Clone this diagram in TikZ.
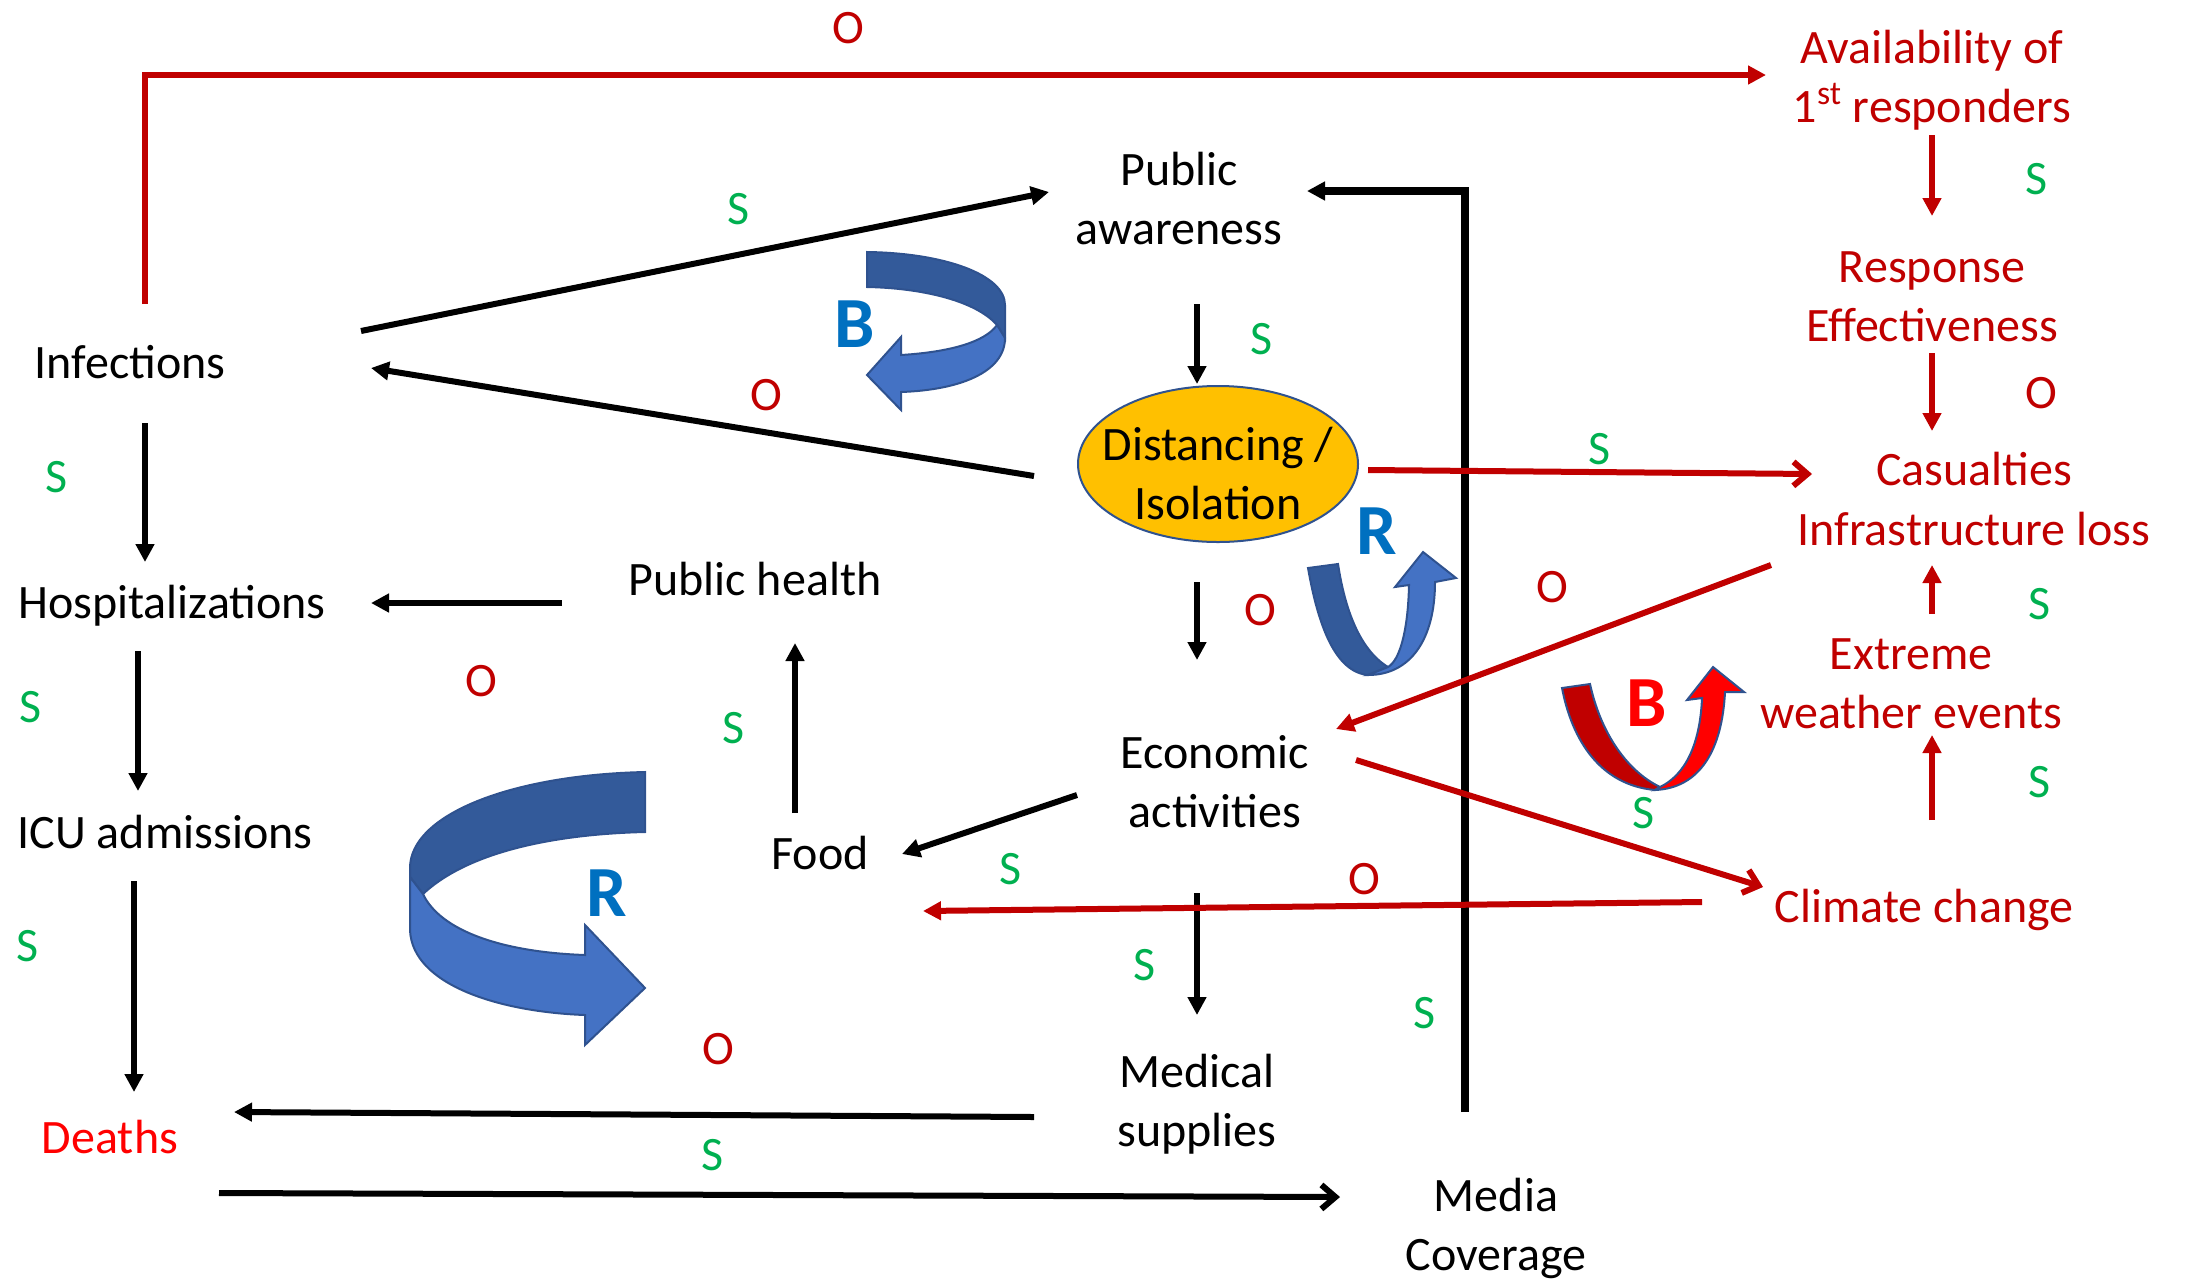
\documentclass[tikz,border=0pt]{standalone}
\usepackage{fontspec}
\setmainfont{Carlito}
\usetikzlibrary{arrows.meta,shapes.geometric}
\definecolor{darkred}{HTML}{C00000}
\definecolor{brightred}{HTML}{FF0000}
\definecolor{sgreen}{HTML}{00B050}
\definecolor{ltrblue}{HTML}{0070C0}
\definecolor{looplight}{HTML}{4472C4}
\definecolor{loopdark}{HTML}{335A9A}
\definecolor{loopline}{HTML}{2F528F}
\definecolor{ellfill}{HTML}{FFC000}
\tikzset{
  txt/.style={font=\fontsize{24}{29.5}\selectfont,align=center,inner sep=0pt},
  redtxt/.style={txt,text=darkred},
  sgn/.style={txt,text=sgreen},
  ogn/.style={txt,text=darkred},
  blk/.style={line width=3pt,-{Triangle[length=9pt,width=9pt]}},
  redln/.style={blk,darkred},
  barb/.style={-{Straight Barb[length=7pt,width=12pt]}},
  loopltr/.style={font=\fontsize{36}{36}\bfseries\selectfont,inner sep=0pt},
  loopshape/.style={draw=loopline,line width=1pt},
}
\begin{document}
\begin{tikzpicture}[x=0.5pt,y=-0.5pt]
\useasboundingbox (0,0) rectangle (2187,1280);
% variables
\node[txt,anchor=base](inf)at(130,378){Infections};
\node[txt,anchor=base](hosp)at(172,618){Hospitalizations};
\node[txt,anchor=base](icu)at(165,848){ICU admissions};
\node[txt,anchor=base,text=brightred](deaths)at(110,1153){Deaths};
\node[txt,anchor=base](pubh)at(755,595){Public health};
\node[txt,anchor=base](food)at(820,869){Food};
\node[txt](aware)at(1179,199){Public\\awareness};
\node[ellipse,draw=loopline,line width=1pt,fill=ellfill,minimum width=140pt,minimum height=78pt,inner sep=0pt](dist)at(1218,464){};
\node[txt](distlbl)at(1218,474){Distancing /\\Isolation};
\node[txt](econ)at(1215,782){Economic\\activities};
\node[txt](med)at(1197,1104){Medical\\supplies};
\node[txt](media)at(1496,1228){Media\\Coverage};
\node[redtxt](avail)at(1932,80){Availability of\\1\textsuperscript{st} responders};
\node[redtxt](resp)at(1932,297){Response\\Effectiveness};
\node[redtxt](cas)at(1974,499){Casualties\\Infrastructure loss};
\node[redtxt](extr)at(1911,684){Extreme\\weather events};
\node[redtxt,anchor=base](clim)at(1924,922){Climate change};
% black links
\draw[blk]([shift={(15,45)}]inf.base)--([shift={(-27,-56)}]hosp.base);
\draw[blk]([shift={(-34,33)}]hosp.base)--([shift={(-27,-57)}]icu.base);
\draw[blk]([shift={(-31,33)}]icu.base)--([shift={(24,-61)}]deaths.base);
\draw[blk]([shift={(231,-47)}]inf.base)--([shift={(-130,-7)}]aware.center);
\draw[blk]([shift={(-184,12)}]dist.center)--([shift={(241,-10)}]inf.base);
\draw[blk]([shift={(18,105)}]aware.center)--([shift={(-21,-80)}]dist.center);
\draw[blk]([shift={(-21,118)}]dist.center)--([shift={(-18,-122)}]econ.center);
\draw[blk]([shift={(-138,13)}]econ.center)--([shift={(82,-15)}]food.base);
\draw[blk]([shift={(-25,-56)}]food.base)--([shift={(40,48)}]pubh.base);
\draw[blk]([shift={(-193,8)}]pubh.base)--([shift={(199,-15)}]hosp.base);
\draw[blk]([shift={(-18,111)}]econ.center)--([shift={(0,-89)}]med.center);
\draw[blk]([shift={(-163,13)}]med.center)--([shift={(124,-41)}]deaths.base);
\draw[blk,barb]([shift={(109,40)}]deaths.base)--([shift={(-156,-31)}]media.center);
\draw[blk,line width=3.6pt]([shift={(-31,-116)}]media.center)|-([shift={(128,-8)}]aware.center);
% red links
\draw[redln]([shift={(15,-74)}]inf.base)|-([shift={(-166,-5)}]avail.center);
\draw[redln]([shift={(0,55)}]avail.center)--([shift={(0,-81)}]resp.center);
\draw[redln]([shift={(0,56)}]resp.center)--([shift={(-42,-68)}]cas.center);
\draw[redln]([shift={(21,-70)}]extr.center)--([shift={(-42,66)}]cas.center);
\draw[redln]([shift={(8,-102)}]clim.base)--([shift={(21,51)}]extr.center);
\draw[redln,barb]([shift={(150,6)}]dist.center)--([shift={(-162,-25)}]cas.center);
\draw[redln]([shift={(-203,66)}]cas.center)--([shift={(121,-53)}]econ.center);
\draw[redln,barb]([shift={(141,-22)}]econ.center)--([shift={(-161,-35)}]clim.base);
\draw[redln]([shift={(-222,-20)}]clim.base)--([shift={(103,42)}]food.base);
% link signs
\node[ogn](o1)at(848,28){O};
\node[sgn](s1)at(739,209){S};
\node[ogn](o2)at(766,395){O};
\node[sgn](s2)at(1262,339){S};
\node[sgn](s3)at(1600,449){S};
\node[ogn](o3)at(1260,610){O};
\node[ogn](o4)at(1552,587){O};
\node[sgn](s4)at(2036,179){S};
\node[ogn](o5)at(2041,393){O};
\node[sgn](s5)at(2039,604){S};
\node[sgn](s6)at(2039,782){S};
\node[sgn](s7)at(1644,813){S};
\node[ogn](o6)at(1364,879){O};
\node[sgn](s8)at(1011,869){S};
\node[sgn](s9)at(734,728){S};
\node[ogn](o7)at(481,681){O};
\node[sgn](s10)at(1145,965){S};
\node[ogn](o8)at(718,1049){O};
\node[sgn](s11)at(713,1155){S};
\node[sgn](s12)at(57,477){S};
\node[sgn](s13)at(31,707){S};
\node[sgn](s14)at(28,946){S};
\node[sgn](s15)at(1425,1013){S};
% loops
\filldraw[loopshape,fill=loopdark](867,252).. controls (945,253) and (1005,275) ..(1005,305)--(1005,338)--(997,325).. controls (975,300) and (920,288) ..(867,287)--cycle;
\filldraw[loopshape,fill=looplight](997,325)--(1005,338).. controls (1005,372) and (960,390) ..(901,392)--(901,410)--(867,375)--(901,337)--(901,355).. controls (950,352) and (985,342) ..(997,325)--cycle;
\node[loopltr,text=ltrblue](bl1)at(855,324){B};
\filldraw[loopshape,fill=loopdark](645,772).. controls (510,775) and (410,815) ..(410,868)--(410,877)--(423,894).. controls (470,850) and (560,834) ..(645,832)--cycle;
\filldraw[loopshape,fill=looplight](410,877)--(410,930).. controls (412,985) and (500,1012) ..(585,1015)--(585,1045)--(645,988)--(585,925)--(585,955).. controls (500,952) and (440,930) ..(423,894)--cycle;
\node[loopltr,text=ltrblue](rl1)at(607,893){R};
\filldraw[loopshape,fill=loopdark](1308,568).. controls (1318,625) and (1335,672) ..(1368,675)--(1388,667).. controls (1360,650) and (1345,610) ..(1338,564)--cycle;
\filldraw[loopshape,fill=looplight](1368,675).. controls (1410,675) and (1435,640) ..(1435,582)--(1456,578)--(1423,552)--(1395,587)--(1409,585).. controls (1408,630) and (1400,660) ..(1388,667)--cycle;
\node[loopltr,text=ltrblue](rl2)at(1377,531){R};
\filldraw[loopshape,fill=darkred](1562,688).. controls (1572,740) and (1600,785) ..(1655,790)--(1660,787).. controls (1625,770) and (1600,730) ..(1590,684)--cycle;
\filldraw[loopshape,fill=brightred](1655,790).. controls (1700,788) and (1722,750) ..(1725,692)--(1744,692)--(1713,667)--(1687,700)--(1702,698).. controls (1700,745) and (1685,775) ..(1660,787)--cycle;
\node[loopltr,text=brightred](bl2)at(1647,703){B};
\end{tikzpicture}
\end{document}
